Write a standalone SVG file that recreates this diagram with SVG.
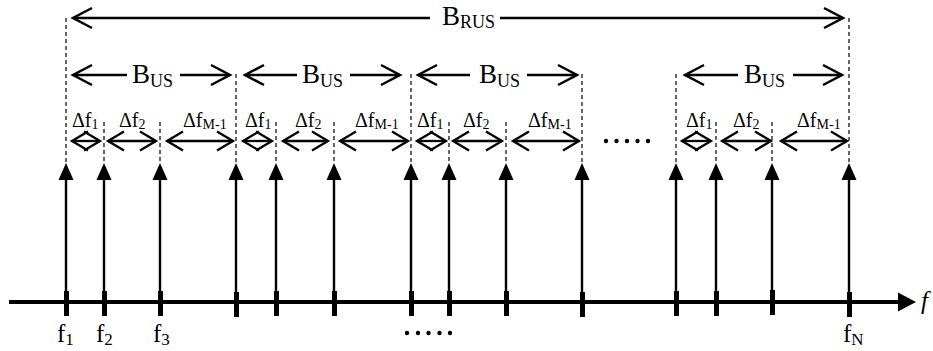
<svg xmlns="http://www.w3.org/2000/svg" width="933" height="351" viewBox="0 0 933 351">
<style>
.dash{stroke:#000;stroke-width:1.2;stroke-dasharray:4 3;fill:none}
.stem{stroke:#000;stroke-width:2.4;fill:none}
.dim{stroke:#000;stroke-width:2.5;fill:none}
.small{stroke:#000;stroke-width:2.3;fill:none}
.axis{stroke:#000;stroke-width:4;fill:none}
.tick{fill:#000}
</style>
<defs>
<marker id="open" markerUnits="userSpaceOnUse" orient="auto" overflow="visible" markerWidth="20" markerHeight="20">
<path d="M-19,-10 L0,0 L-19,10" fill="none" stroke="#000" stroke-width="2.5"/>
</marker>
<marker id="opensm" markerUnits="userSpaceOnUse" orient="auto-start-reverse" overflow="visible" markerWidth="20" markerHeight="20">
<path d="M-16,-9.5 L0,0 L-16,9.5" fill="none" stroke="#000" stroke-width="2.3"/>
</marker>
<marker id="solid" markerUnits="userSpaceOnUse" orient="auto" overflow="visible" markerWidth="20" markerHeight="20">
<path d="M-3,-7.5 L14,0 L-3,7.5 Z" fill="#000"/>
</marker>
</defs>

<g id="guides">
<line class="dash" x1="66" y1="18" x2="66" y2="163"/>
<line class="dash" x1="849" y1="18" x2="849" y2="163"/>
<line class="dash" x1="236" y1="74" x2="236" y2="163"/>
<line class="dash" x1="411" y1="74" x2="411" y2="163"/>
<line class="dash" x1="582" y1="74" x2="582" y2="163"/>
<line class="dash" x1="676" y1="74" x2="676" y2="163"/>
<line class="dash" x1="104" y1="122" x2="104" y2="163"/>
<line class="dash" x1="160" y1="122" x2="160" y2="163"/>
<line class="dash" x1="276" y1="122" x2="276" y2="163"/>
<line class="dash" x1="334" y1="122" x2="334" y2="163"/>
<line class="dash" x1="449" y1="122" x2="449" y2="163"/>
<line class="dash" x1="506" y1="122" x2="506" y2="163"/>
<line class="dash" x1="716" y1="122" x2="716" y2="163"/>
<line class="dash" x1="772" y1="122" x2="772" y2="163"/>
</g>

<g id="connectors">
<line class="dim" x1="430" y1="18" x2="73" y2="18" marker-end="url(#open)"/>
<line class="dim" x1="500" y1="18" x2="843" y2="18" marker-end="url(#open)"/>
<line class="dim" x1="127" y1="75" x2="73" y2="75" marker-end="url(#open)"/>
<line class="dim" x1="180" y1="75" x2="230" y2="75" marker-end="url(#open)"/>
<line class="dim" x1="297" y1="75" x2="245" y2="75" marker-end="url(#open)"/>
<line class="dim" x1="350" y1="75" x2="400" y2="75" marker-end="url(#open)"/>
<line class="dim" x1="470" y1="75" x2="418" y2="75" marker-end="url(#open)"/>
<line class="dim" x1="527" y1="75" x2="577" y2="75" marker-end="url(#open)"/>
<line class="dim" x1="738" y1="75" x2="685" y2="75" marker-end="url(#open)"/>
<line class="dim" x1="793" y1="75" x2="842" y2="75" marker-end="url(#open)"/>
<line class="small" x1="72" y1="141" x2="100" y2="141" marker-start="url(#opensm)" marker-end="url(#opensm)"/>
<line class="small" x1="108" y1="141" x2="156" y2="141" marker-start="url(#opensm)" marker-end="url(#opensm)"/>
<line class="small" x1="167" y1="141" x2="233" y2="141" marker-start="url(#opensm)" marker-end="url(#opensm)"/>
<line class="small" x1="243" y1="141" x2="272" y2="141" marker-start="url(#opensm)" marker-end="url(#opensm)"/>
<line class="small" x1="283" y1="141" x2="328" y2="141" marker-start="url(#opensm)" marker-end="url(#opensm)"/>
<line class="small" x1="340" y1="141" x2="408" y2="141" marker-start="url(#opensm)" marker-end="url(#opensm)"/>
<line class="small" x1="417" y1="141" x2="446" y2="141" marker-start="url(#opensm)" marker-end="url(#opensm)"/>
<line class="small" x1="453" y1="141" x2="502" y2="141" marker-start="url(#opensm)" marker-end="url(#opensm)"/>
<line class="small" x1="513" y1="141" x2="579" y2="141" marker-start="url(#opensm)" marker-end="url(#opensm)"/>
<line class="small" x1="682" y1="141" x2="711" y2="141" marker-start="url(#opensm)" marker-end="url(#opensm)"/>
<line class="small" x1="722" y1="141" x2="771" y2="141" marker-start="url(#opensm)" marker-end="url(#opensm)"/>
<line class="small" x1="781" y1="141" x2="847" y2="141" marker-start="url(#opensm)" marker-end="url(#opensm)"/>
<line class="stem" x1="66" y1="302" x2="66" y2="177" marker-end="url(#solid)"/>
<line class="stem" x1="104" y1="302" x2="104" y2="177" marker-end="url(#solid)"/>
<line class="stem" x1="160" y1="302" x2="160" y2="177" marker-end="url(#solid)"/>
<line class="stem" x1="236" y1="302" x2="236" y2="177" marker-end="url(#solid)"/>
<line class="stem" x1="276" y1="302" x2="276" y2="177" marker-end="url(#solid)"/>
<line class="stem" x1="334" y1="302" x2="334" y2="177" marker-end="url(#solid)"/>
<line class="stem" x1="411" y1="302" x2="411" y2="177" marker-end="url(#solid)"/>
<line class="stem" x1="449" y1="302" x2="449" y2="177" marker-end="url(#solid)"/>
<line class="stem" x1="506" y1="302" x2="506" y2="177" marker-end="url(#solid)"/>
<line class="stem" x1="582" y1="302" x2="582" y2="177" marker-end="url(#solid)"/>
<line class="stem" x1="676" y1="302" x2="676" y2="177" marker-end="url(#solid)"/>
<line class="stem" x1="716" y1="302" x2="716" y2="177" marker-end="url(#solid)"/>
<line class="stem" x1="772" y1="302" x2="772" y2="177" marker-end="url(#solid)"/>
<line class="stem" x1="849" y1="302" x2="849" y2="177" marker-end="url(#solid)"/>
</g>

<g id="axis">
<line class="axis" x1="9" y1="302" x2="900" y2="302"/>
<path d="M898,292.5 L916,302 L898,311.5 Z" fill="#000"/>
<rect class="tick" x="64" y="291" width="5" height="25"/>
<rect class="tick" x="102" y="291" width="5" height="25"/>
<rect class="tick" x="158" y="291" width="5" height="25"/>
<rect class="tick" x="234" y="292" width="5" height="25"/>
<rect class="tick" x="274" y="291" width="5" height="25"/>
<rect class="tick" x="332" y="291" width="5" height="25"/>
<rect class="tick" x="409" y="291" width="5" height="25"/>
<rect class="tick" x="447" y="291" width="5" height="25"/>
<rect class="tick" x="504" y="291" width="5" height="25"/>
<rect class="tick" x="580" y="292" width="5" height="25"/>
<rect class="tick" x="674" y="291" width="5" height="25"/>
<rect class="tick" x="714" y="291" width="5" height="25"/>
<rect class="tick" x="770" y="290" width="5" height="25"/>
<rect class="tick" x="847" y="292" width="5" height="25"/>
</g>

<g id="dots" fill="#000">
<circle cx="606" cy="141" r="2.2"/>
<circle cx="616.5" cy="141" r="2.2"/>
<circle cx="627" cy="141" r="2.2"/>
<circle cx="637.5" cy="141" r="2.2"/>
<circle cx="648" cy="141" r="2.2"/>
<circle cx="407" cy="333" r="2.2"/>
<circle cx="418" cy="333" r="2.2"/>
<circle cx="428.5" cy="333" r="2.2"/>
<circle cx="439.5" cy="333" r="2.2"/>
<circle cx="450" cy="333" r="2.2"/>
</g>

<g id="labels" font-family="'Liberation Serif', 'Times New Roman', serif" fill="#000">
<g font-size="27">
<text x="442" y="25">B<tspan font-size="18" dy="3">RUS</tspan></text>
<text x="132" y="83">B<tspan font-size="18" dy="4">US</tspan></text>
<text x="302" y="83">B<tspan font-size="18" dy="4">US</tspan></text>
<text x="479" y="83">B<tspan font-size="18" dy="4">US</tspan></text>
<text x="744" y="83">B<tspan font-size="18" dy="4">US</tspan></text>
</g>
<g font-size="20">
<text x="72" y="127">Δf<tspan font-size="14" dy="2">1</tspan></text>
<text x="119" y="127">Δf<tspan font-size="14" dy="2">2</tspan></text>
<text x="183" y="127">Δf<tspan font-size="14" dy="2">M-1</tspan></text>
<text x="245" y="127">Δf<tspan font-size="14" dy="2">1</tspan></text>
<text x="295" y="127">Δf<tspan font-size="14" dy="2">2</tspan></text>
<text x="355" y="127">Δf<tspan font-size="14" dy="2">M-1</tspan></text>
<text x="417" y="127">Δf<tspan font-size="14" dy="2">1</tspan></text>
<text x="463" y="127">Δf<tspan font-size="14" dy="2">2</tspan></text>
<text x="528" y="127">Δf<tspan font-size="14" dy="2">M-1</tspan></text>
<text x="686" y="127">Δf<tspan font-size="14" dy="2">1</tspan></text>
<text x="733" y="127">Δf<tspan font-size="14" dy="2">2</tspan></text>
<text x="797" y="127">Δf<tspan font-size="14" dy="2">M-1</tspan></text>
</g>
<g font-size="25">
<text x="57" y="342">f<tspan font-size="17" dy="3">1</tspan></text>
<text x="96" y="342">f<tspan font-size="17" dy="3">2</tspan></text>
<text x="153" y="342">f<tspan font-size="17" dy="3">3</tspan></text>
<text x="843" y="342">f<tspan font-size="17" dy="3">N</tspan></text>
<text x="921" y="309" font-style="italic">f</text>
</g>
</g>
</svg>
